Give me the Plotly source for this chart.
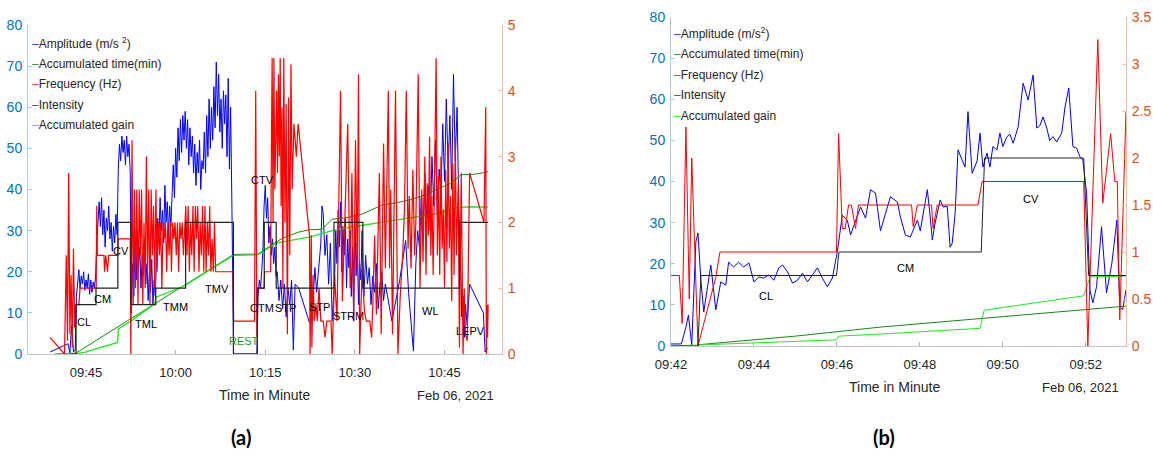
import plotly.graph_objects as go
import pandas as pd

W, H = 1153, 459
BASE = pd.Timestamp("2021-02-06 09:00:00")
NARROW = "Liberation Sans Narrow, Arial Narrow, Liberation Sans, Arial, sans-serif"

# ---------------- panel (a): times in minutes after 09:00 ----------------
a_amp_t = [39.0, 42.0, 42.3, 42.6, 42.9, 43.2,
           43.4, 43.6, 43.8, 44.0, 44.2, 44.4, 44.6, 44.8, 45.0, 45.2, 45.4, 45.6, 45.8, 46.0, 46.2, 46.4, 46.6,
           46.8, 47.0, 47.2, 47.4, 47.6, 47.8, 48.0, 48.2, 48.4, 48.6, 48.8, 49.0, 49.2, 49.4, 49.6, 49.8, 50.0, 50.2,
           50.4, 50.6, 50.8, 51.0, 51.2, 51.4, 51.6, 51.8, 52.0, 52.2, 52.4,
           52.6, 52.8, 53.0, 53.2, 53.4, 53.6, 53.8, 54.0, 54.2, 54.4, 54.6, 54.8, 55.0, 55.2, 55.4, 55.6, 55.8, 56.0, 56.2, 56.4, 56.6,
           56.8, 57.0, 57.2, 57.4, 57.6, 57.8, 58.0, 58.2, 58.4, 58.6, 58.8, 59.0, 59.2, 59.4, 59.6, 59.8, 60.0, 60.2, 60.4, 60.6, 60.8, 61.0, 61.2, 61.4, 61.6,
           61.8, 62.0, 62.2, 62.4, 62.6, 62.8, 63.0, 63.2, 63.4, 63.6, 63.8, 64.0, 64.2, 64.4, 64.6, 64.8, 65.0, 65.2, 65.4, 65.6,
           65.8, 66.0, 66.2, 66.4, 66.6, 66.8, 67.0, 67.2, 67.4, 67.6, 67.8, 68.0, 68.2, 68.4, 68.6, 68.8, 69.0, 69.2, 69.4, 69.6,
           69.7, 73.6,
           73.8, 74.0, 74.2, 74.4, 74.6, 74.8, 75.0, 75.2, 75.4, 75.6, 75.8, 76.0, 76.2, 76.4, 76.6, 76.8,
           77.0, 77.3, 77.6, 77.9, 78.2, 78.5, 78.8, 79.1, 79.4, 79.7, 80.0, 80.6, 82.4, 82.8, 83.3, 83.6, 84.0, 84.3, 84.5, 84.7, 85.0, 85.3, 85.6, 85.9, 86.2, 86.4,
           86.6, 86.8, 87.0, 87.2, 87.4, 87.6, 87.8, 88.0, 88.2, 88.4, 88.6, 88.8, 89.0, 89.2, 89.4, 89.6, 89.8, 90.0, 90.2, 90.4, 90.6, 90.8, 91.0, 91.2,
           91.5, 91.8, 92.1, 92.4, 92.7, 93.0, 93.3, 93.6, 93.9, 94.2, 94.5, 94.8, 95.1, 96.2, 97.5, 98.5, 98.8, 99.0, 99.8, 100.2, 100.5,
           100.8, 101.1, 101.4, 101.7, 102.0, 102.3, 102.6, 102.9, 103.2, 103.5, 103.8, 104.1, 104.4, 104.7, 105.0, 105.3, 105.6, 105.9, 106.2, 106.5, 106.8, 107.1, 107.4,
           107.7, 107.9, 108.1, 108.3, 108.5, 108.8, 109.2, 111.5, 111.8, 112.2]
a_amp_v = [0.5, 2.5, 0.2, 7.0, 0.5, 1.0,
           14, 18, 20.5, 16, 19, 17, 20, 15.5, 18, 16, 19.5, 14.5, 18, 15, 17.5, 16, 19,
           27, 33, 37, 31, 38, 29, 35, 26, 33, 30, 36, 28, 32, 25, 31, 27, 34, 29,
           45, 51, 47, 53, 49, 52, 46, 53, 48, 51, 44,
           10, 22, 14, 27, 18, 30, 21, 26, 16, 24, 19, 28, 17, 22, 13, 20, 15, 23, 12, 18, 14,
           24, 33, 28, 38, 30, 35, 27, 41, 32, 37, 29, 36, 31, 40, 46, 38, 50, 43, 55, 47, 57, 49, 58, 52, 59,
           50, 57, 46, 55, 48, 53, 44, 51, 41, 49, 44, 52, 40, 47, 45, 54, 44, 58, 48, 62,
           50, 60, 52, 65, 55, 71, 58, 68, 54, 62, 50, 64, 56, 63, 48, 67, 45, 60, 38, 20,
           0, 0,
           14, 18, 16, 20, 25, 36, 41, 33, 38, 27, 31, 24, 28, 22, 26, 19,
           20, 13, 18, 11, 17, 9, 16, 12, 18, 1, 17, 16, 7.6, 8, 21, 15, 23, 27, 36, 34, 24, 29, 17, 27, 8, 14,
           18, 30, 22, 35, 26, 37, 20, 31, 24, 33, 16, 28, 21, 30, 14, 26, 8, 34, 19, 27, 12, 22, 18, 30,
           14, 24, 17, 21, 12, 19, 15, 22, 11, 17, 20, 13, 17, 8, 18, 27.6, 19, 14.7, 0.7, 22, 30,
           26, 38, 29, 44, 33, 41, 30, 48, 36, 52, 34, 45, 38, 56, 42, 62, 45, 58, 40, 68, 47, 60, 35,
           22, 9, 14, 4, 12, 7, 17, 10, 0.5, 1.5]

a_freq_t = [39.0, 41.4, 41.7, 41.9, 42.1, 42.3, 42.5, 42.7, 42.9, 43.1, 43.3, 43.8, 44.0, 46.6,
            46.7, 46.8, 46.9, 48.0, 48.1, 48.3, 48.6, 48.8, 50.3,
            50.4, 52.4,
            52.5, 52.7, 52.9, 53.1, 53.3, 53.5, 53.7, 53.9, 54.1, 54.3,
            54.5, 54.7, 54.9, 55.1, 55.3, 55.5, 55.7, 55.9, 56.1, 56.3,
            56.5, 56.7, 56.9, 57.1, 57.3, 57.5, 57.7, 57.9, 58.1, 58.3,
            58.5, 58.7, 58.9, 59.1, 59.3, 59.5, 59.7, 59.9, 60.1, 60.3,
            60.5, 60.7, 60.9, 61.1, 61.3, 61.5,
            61.7, 61.9, 62.1, 62.3, 62.5, 62.7, 62.9, 63.1, 63.3, 63.5, 63.7, 63.9, 64.1, 64.3, 64.5, 64.7, 64.9,
            65.1, 65.3, 65.5, 65.7, 65.9, 66.1, 66.3, 66.5, 66.7, 69.6,
            69.7, 73.2, 73.4, 73.6, 73.7, 74.8, 74.9, 75.9,
            76.0, 76.15, 76.3, 76.45, 76.6, 76.75, 76.9, 77.05, 77.2, 77.35, 77.5, 77.65, 77.8, 77.95,
            78.1, 78.3, 78.5, 78.7, 78.9, 79.1, 79.3, 79.5, 79.8, 80.2, 80.5, 82.4, 82.5, 82.7, 82.8, 83.0, 83.2, 83.5, 83.7,
            84.0, 84.3, 84.7, 85.0, 85.3, 86.0, 86.2,
            86.6, 87.0, 87.6, 87.9, 88.3, 88.8, 89.2, 89.5, 89.8, 90.1, 90.4, 90.6, 90.8, 91.2, 91.6, 91.9, 92.5, 92.8, 93.0, 93.3,
            93.6, 94.1, 94.4, 94.8, 95.1, 95.6, 95.8, 96.0, 96.3, 96.8, 97.2, 97.6, 98.0, 98.3, 98.6, 98.9, 99.1, 99.4, 99.7, 100.0,
            100.2, 100.6, 100.9, 101.2, 101.4, 101.7, 101.9, 102.1, 102.3, 102.5, 102.7, 102.9, 103.1, 103.4, 103.6, 103.8, 104.0,
            104.2, 104.4, 104.6, 104.8, 105.0, 105.2, 105.4, 105.6, 105.8, 106.0, 106.2, 106.4, 106.6, 106.8, 107.0, 107.3,
            107.5, 107.8, 108.1, 108.3, 108.5, 108.8, 109.2, 111.6, 111.9, 112.0, 112.1, 112.2, 112.3]
a_freq_v = [0.25, 0, 1.5, 0.2, 2.75, 0.3, 1.2, 0.1, 1.6, 0.4, 0.75, 0.75, 1.0, 1.0,
            1.0, 2.25, 1.5, 1.5, 1.25, 1.5, 1.25, 1.5, 1.5,
            1.75, 1.75,
            0, 3.25, 0.75, 2.5, 1.0, 2.5, 0.75, 2.5, 1.5, 2.5,
            0.75, 2.0, 1.0, 3.0, 1.25, 2.5, 0.75, 2.5, 1.5, 2.25,
            1.0, 2.5, 1.25, 2.0, 1.5, 2.0, 1.0, 2.0, 1.75, 2.0,
            1.25, 2.0, 1.5, 2.0, 1.25, 2.0, 1.75, 2.0, 1.5, 2.0,
            1.25, 2.0, 1.75, 2.0, 1.5, 2.0,
            2.25, 1.5, 2.25, 1.25, 2.0, 1.5, 2.25, 1.25, 2.25, 1.75, 2.25, 1.25, 2.0, 1.5, 2.25, 1.25, 2.25,
            1.25, 2.0, 1.5, 2.25, 1.25, 1.75, 1.25, 2.0, 1.25, 1.25,
            0.5, 0.5, 4.0, 0.25, 1.0, 1.0, 1.25, 1.25,
            2.75, 4.5, 2.0, 4.5, 2.5, 3.5, 4.0, 2.75, 4.25, 3.0, 4.5, 2.25, 3.75, 1.0,
            4.5, 2.0, 3.8, 0.3, 3.9, 1.5, 4.4, 2.5, 3.5, 3.0, 3.5, 1.8, 0, 1.8, 0.1, 1.2, 0.5, 0.75, 0.5,
            1.0, 0.5, 0.5, 0.25, 0.5, 0.5, 0,
            1.2, 0.5, 4.0, 0.8, 2.0, 3.5, 1.0, 2.75, 0.6, 3.25, 1.3, 4.25, 0, 1.3, 0.65, 0.5, 0.5, 0.25, 0.75, 1.8,
            0.6, 2.75, 0.3, 3.2, 1.3, 4.0, 1.3, 2.5, 0.3, 4.0, 0, 0.9, 1.5, 2.2, 4.0, 1.6, 2.4, 1.3, 2.8, 1.5,
            2.0, 4.25, 1.0, 2.5, 1.4, 3.0, 1.2, 2.6, 1.8, 3.3, 1.5, 2.4, 1.2, 3.0, 4.5, 1.5, 2.7,
            1.2, 3.0, 1.6, 2.2, 1.0, 2.8, 1.4, 3.2, 1.6, 2.4, 0.8, 2.9, 1.2, 3.3, 1.5, 2.6,
            0.1, 2.75, 0, 1.0, 0.3, 0.2, 2.75, 2.0, 3.75, 0, 0.75, 0.25, 0.75]

a_int_t = [42.5, 43.33, 46.67, 50.33, 52.5, 56.67, 61.67, 69.67, 73.67, 74.83, 76.83, 86.5, 91.33, 107.5, 112.33]
a_int_v = [0, 0.75, 1.0, 2.0, 0.75, 1.0, 2.0, 0, 1.0, 2.0, 1.0, 2.0, 1.0, 2.0, 2.0]

a_time_t = [39.8, 43.3, 48.0, 52.5, 57.0, 61.7, 66.0, 69.7, 73.7, 77.8, 80.5, 82.3, 84.5, 86.2, 88.5,
            91.2, 94.5, 97.0, 99.5, 102.0, 104.0, 106.0, 107.8, 110.0, 112.3]
a_time_v = [0, 0.2, 4.5, 8.6, 12.7, 16.8, 20.8, 24.2, 24.3, 28.1, 29.6, 30.2, 30.3, 32.8, 33.1,
            34.0, 36.2, 36.8, 37.6, 38.8, 40.2, 41.5, 43.6, 43.7, 44.3]

a_gain_t = [39.8, 43.3, 45.0, 47.0, 48.5, 50.3, 50.4, 52.5, 56.5, 56.7, 61.5, 69.7, 73.7, 77.0, 82.3,
            86.2, 90.0, 94.5, 100.0, 104.0, 107.0, 109.5, 112.3]
a_gain_v = [0, 0, 0.5, 1.3, 2.0, 2.8, 6.1, 8.0, 12.2, 13.8, 16.6, 24.0, 24.1, 27.0, 28.4,
            30.0, 31.0, 32.0, 33.2, 34.2, 35.6, 35.8, 35.7]

a_lab = ["CL", "CM", "CV", "TML", "TMM", "TMV", "REST", "CTM", "STP", "CTV", "STP", "STRM", "WL", "LEPV"]
a_lab_t = [44.67, 47.68, 50.86, 55.04, 59.9, 66.92, 71.44, 74.5, 78.45, 74.46, 84.0, 88.85, 102.57, 109.27]
a_lab_v = [7.8, 13.4, 25.0, 7.3, 11.4, 15.8, 3.2, 11.2, 11.2, 42.3, 11.4, 9.2, 10.5, 5.6]

# ---------------- panel (b) ----------------
b_amp_t = [42.0, 42.25, 42.36, 42.42, 42.5, 42.6, 42.65, 42.72, 42.79, 42.96, 43.08, 43.2, 43.32, 43.39,
           43.51, 43.63, 43.75, 43.88, 44.0, 44.12, 44.24, 44.36, 44.48, 44.6, 44.69, 44.81, 44.93, 45.05,
           45.17, 45.29, 45.41, 45.53, 45.65, 45.77, 45.89, 46.01, 46.13, 46.25, 46.33, 46.45, 46.57, 46.69,
           46.81, 46.93, 47.05, 47.29, 47.46, 47.53, 47.65, 47.77, 47.84, 47.94, 48.01, 48.18, 48.25, 48.3,
           48.37, 48.49, 48.56, 48.66, 48.73, 48.78, 48.85, 48.92, 49.02, 49.09, 49.16, 49.26, 49.38, 49.45,
           49.52, 49.62, 49.69, 49.76, 49.86, 49.93, 50.0, 50.1, 50.17, 50.25, 50.37, 50.49, 50.61, 50.73,
           50.82, 50.89, 50.97, 51.06, 51.13, 51.21, 51.3, 51.42, 51.5, 51.59, 51.69, 51.78, 51.86, 51.93,
           52.02, 52.1, 52.17, 52.26, 52.38, 52.5, 52.63, 52.75, 52.82, 52.89, 52.97]
b_amp_v = [0.5, 0.5, 4.6, 7.5, 0.3, 25.3, 27.5, 16, 8.3, 19.7, 8.8, 15.6, 14.8, 20.4,
           19.2, 20.4, 19.2, 20.2, 15.6, 16.8, 16.5, 17.3, 16, 19, 19.7, 18, 15.3, 16,
           17.7, 15.6, 17.3, 19, 16.5, 14.4, 16.5, 22.9, 31.8, 30.6, 27, 30.6, 33.8, 31.1,
           38, 37.2, 28, 36.3, 35, 31.4, 27, 26.5, 28.2, 30.6, 28, 38, 31.4, 25.8,
           30, 35.5, 33.8, 34, 24, 25, 32.3, 47.7, 45.2, 43.5, 57, 42, 45, 51.8,
           43.5, 46.9, 43.5, 48.5, 47.7, 51.8, 48.5, 50.9, 51.5, 49.3, 53.3, 63.9, 59.8, 65.9,
           53, 53.5, 55.7, 53, 50, 50.9, 49.6, 51.8, 58.1, 62.7, 48.5, 48.1, 46, 45.2,
           37.2, 13.6, 10.5, 14.4, 29, 12.9, 20.2, 30.6, 9.5, 8.8, 13.6]

b_freq_t = [42.0, 42.2, 42.27, 42.36, 42.44, 42.5, 42.65, 43.08, 43.18, 45.99, 46.04, 46.13, 46.2, 46.28,
            46.35, 46.45, 46.52, 47.8, 47.84, 47.94, 48.28, 48.32, 48.42, 49.4, 49.5, 51.95, 52.05, 52.29,
            52.41, 52.6, 52.7, 52.76, 52.82, 52.97]
b_freq_v = [0.75, 0.75, 0.24, 2.33, 0.5, 2.0, 0, 0.73, 1.0, 1.0, 2.26, 1.25, 1.25, 1.5,
            1.5, 1.25, 1.5, 1.5, 1.27, 1.5, 1.5, 1.25, 1.5, 1.5, 1.75, 1.75, 0, 3.26,
            1.52, 2.26, 1.75, 1.75, 0.28, 2.5]

b_int_t = [42.0, 42.65, 42.72, 45.99, 46.05, 49.48, 49.56, 51.95, 52.07, 52.97]
b_int_v = [0, 0, 0.75, 0.75, 1.0, 1.0, 2.0, 2.0, 0.75, 0.75]

b_time_t = [42.65, 45.0, 47.05, 49.5, 52.0, 52.97]
b_time_v = [0.3, 2.4, 4.6, 6.7, 8.9, 9.7]

b_gain_t = [42.0, 44.0, 45.99, 46.04, 47.05, 49.45, 49.55, 51.95, 52.1, 52.97]
b_gain_v = [0, 0.8, 1.5, 2.4, 2.9, 4.3, 8.7, 12.2, 16.8, 17.0]

b_lab = ["CL", "CM", "CV"]
b_lab_t = [44.28, 47.65, 50.68]
b_lab_v = [12.2, 19.0, 35.7]

legend_names = ["Amplitude (m/s<sup>2</sup>)", "Accumulated time(min)", "Frequency (Hz)", "Intensity", "Accumulated gain"]
legend_names_a = ["Amplitude (m/s <sup>2</sup>)", "Accumulated time(min)", "Frequency (Hz)", "Intensity", "Accumulated gain"]

C_AMP, C_TIME, C_FREQ, C_INT, C_GAIN = "#0000ff", "#138a13", "#ff0000", "#222222", "#22e622"
legend_colors = ["#3b3bff", "#2a9a2a", "#ff3030", "#555555", "#33ee33"]


def T(mins):
    return [BASE + pd.Timedelta(minutes=float(m)) for m in mins]


fig = go.Figure()


def add(x, y, color, xa, ya, shape="linear", width=1.0):
    fig.add_trace(go.Scatter(x=T(x), y=y, mode="lines",
                             line=dict(color=color, width=width, shape=shape),
                             xaxis=xa, yaxis=ya, showlegend=False, hoverinfo="skip"))


# panel (a)
add(a_amp_t, a_amp_v, C_AMP, "x", "y")
add(a_time_t, a_time_v, C_TIME, "x", "y")
add(a_gain_t, a_gain_v, C_GAIN, "x", "y", width=1.3)
add(a_freq_t, a_freq_v, C_FREQ, "x", "y2", width=1.2)
add(a_int_t, a_int_v, C_INT, "x", "y2", shape="hv", width=1.2)
# panel (b)
add(b_amp_t, b_amp_v, C_AMP, "x2", "y3")
add(b_time_t, b_time_v, C_TIME, "x2", "y3")
add(b_gain_t, b_gain_v, C_GAIN, "x2", "y3")
add(b_freq_t, b_freq_v, C_FREQ, "x2", "y4")
add(b_int_t, b_int_v, C_INT, "x2", "y4")

TXT = "#262626"
LEFT_C, RIGHT_C = "#0072BD", "#D95319"
LEFT_LINE, RIGHT_LINE, X_LINE = "#a9cde8", "#f3bda6", "#c4c4c4"


def xax(domain, anchor, rng, ticks):
    return dict(domain=domain, anchor=anchor, type="date", range=T(rng), tickvals=T(ticks),
                tickformat="%H:%M", ticks="inside", ticklen=4, tickcolor="#b0b0b0",
                showline=True, linecolor=X_LINE, linewidth=1, showgrid=False, zeroline=False,
                tickfont=dict(family=NARROW, size=13, color=TXT), automargin=False,
                ticklabelstandoff=6)


def yax(domain, anchor, rng, dtick, side, color, linecolor, overlaying=None):
    d = dict(domain=domain, anchor=anchor, range=rng, dtick=dtick, side=side,
             ticks="inside", ticklen=4, tickcolor=linecolor, showline=True, linecolor=linecolor,
             linewidth=1, showgrid=False, zeroline=False, automargin=False,
             tickfont=dict(family=NARROW, size=14, color=color), ticklabelstandoff=2)
    if overlaying:
        d["overlaying"] = overlaying
    return d


ya_dom = [1 - 354 / H, 1 - 25 / H]
yb_dom = [1 - 346 / H, 1 - 17 / H]

fig.update_layout(
    width=W, height=H, template="none",
    margin=dict(l=0, r=0, t=0, b=0),
    paper_bgcolor="white", plot_bgcolor="rgba(0,0,0,0)",
    xaxis=xax([28 / W, 502 / W], "y", [35.29, 114.62], [45, 60, 75, 90, 105]),
    yaxis=yax(ya_dom, "x", [0, 80], 10, "left", LEFT_C, LEFT_LINE),
    yaxis2=yax(ya_dom, "x", [0, 5], 1, "right", RIGHT_C, RIGHT_LINE, overlaying="y"),
    xaxis2=xax([671 / W, 1126 / W], "y3", [42.0, 52.97], [42, 44, 46, 48, 50, 52]),
    yaxis3=yax(yb_dom, "x2", [0, 80], 10, "left", LEFT_C, LEFT_LINE),
    yaxis4=yax(yb_dom, "x2", [0, 3.5], 0.5, "right", RIGHT_C, RIGHT_LINE, overlaying="y3"),
    showlegend=False,
)

ann = []


def px(x, y, text, size, color=TXT, xanchor="center", family=NARROW, bold=False):
    if bold:
        text = "<b>" + text + "</b>"
    ann.append(dict(x=x / W, y=1 - y / H, xref="paper", yref="paper", text=text, showarrow=False,
                    xanchor=xanchor, yanchor="middle", font=dict(family=family, size=size, color=color)))


# legends (short coloured dash + label)
for i, (name, col) in enumerate(zip(legend_names_a, legend_colors)):
    px(30, 43 + i * 20.6, '<span style="color:%s">–</span>%s' % (col, name), 12, xanchor="left")
for i, (name, col) in enumerate(zip(legend_names, legend_colors)):
    px(672, 33 + i * 20.8, '<span style="color:%s">–</span>%s' % (col, name), 12, xanchor="left")

# activity labels (data coordinates)
for name, t, v in zip(a_lab, a_lab_t, a_lab_v):
    ann.append(dict(x=T([t])[0], y=v, xref="x", yref="y", text=name, showarrow=False,
                    font=dict(family=NARROW, size=11, color="#1a9a1a" if name == "REST" else "#000000")))
for name, t, v in zip(b_lab, b_lab_t, b_lab_v):
    ann.append(dict(x=T([t])[0], y=v, xref="x2", yref="y3", text=name, showarrow=False,
                    font=dict(family=NARROW, size=11, color="#000000")))

# axis captions
px(265, 395, "Time in Minute", 14)
px(455, 395, "Feb 06, 2021", 13)
px(895, 387, "Time in Minute", 14)
px(1080, 387, "Feb 06, 2021", 13)
px(241, 437, "(a)", 20, color="#000000", family="Lato, Liberation Sans, sans-serif", bold=True)
px(884, 437, "(b)", 20, color="#000000", family="Lato, Liberation Sans, sans-serif", bold=True)

fig.update_layout(annotations=ann)

assert len(a_amp_t) == len(a_amp_v)
assert len(a_freq_t) == len(a_freq_v)
assert len(b_amp_t) == len(b_amp_v)
assert len(b_freq_t) == len(b_freq_v)

fig.write_html("out.html", config={"displayModeBar": False},
               post_script="document.body.style.margin='0px';")
